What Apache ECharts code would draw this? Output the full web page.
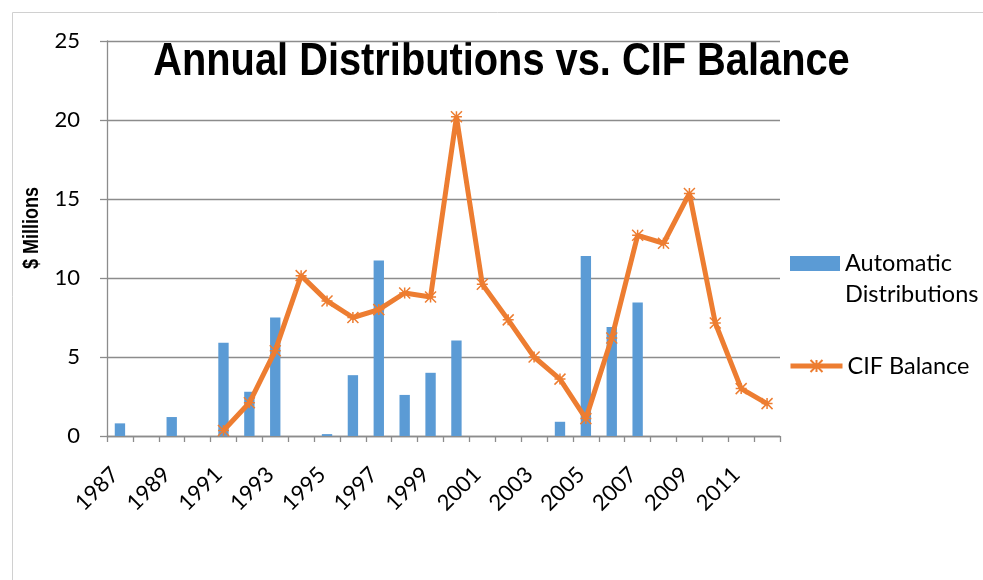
<!DOCTYPE html>
<html>
<head>
<meta charset="utf-8">
<script src="https://cdn.jsdelivr.net/npm/echarts@6/dist/echarts.min.js"></script>
<style>
  html, body { margin: 0; padding: 0; background: #ffffff; }
  #chart { width: 983px; height: 580px; }
</style>
</head>
<body>
<div id="chart"></div>
<script>
// ---- data ----
var years = ['1987','1988','1989','1990','1991','1992','1993','1994','1995','1996','1997','1998','1999',
             '2000','2001','2002','2003','2004','2005','2006','2007','2008','2009','2010','2011','2012'];
var automaticDistributions = [0.8, null, 1.2, null, 5.9, 2.8, 7.5, null, 0.12, 3.85, 11.1, 2.6, 4.0,
                              6.05, null, null, null, 0.9, 11.4, 6.9, 8.45, null, null, null, null, null];
var cifBalance = [null, null, null, null, 0.35, 2.1, 5.4, 10.15, 8.55, 7.5, 8.0, 9.05, 8.8,
                  20.2, 9.6, 7.35, 5.0, 3.6, 1.1, 6.2, 12.7, 12.2, 15.35, 7.15, 3.0, 2.05];
var yTicks = { min: 0, max: 25, interval: 5 };
var titleText = 'Annual Distributions vs. CIF Balance';
var yAxisName = '$ Millions';
var seriesNames = ['Automatic Distributions', 'CIF Balance'];

var chart = echarts.init(document.getElementById('chart'));
var gridColor = '#8c8c8c';
var asterisk = 'path://M0,0L10,10M10,0L0,10M5,0L5,10M0,5L10,5';

chart.setOption({
  backgroundColor: '#ffffff',
  animation: false,
  graphic: [{
    type: 'polyline',
    shape: { points: [[12.5, 580], [12.5, 12.5], [983, 12.5]] },
    style: { stroke: '#d0d0d0', lineWidth: 1, fill: null },
    silent: true
  }, {
    type: 'text',
    x: 501.5, y: 62,
    scaleX: 0.865,
    style: {
      text: titleText,
      font: 'bold 46px "Liberation Sans", Arial, sans-serif',
      fill: '#000',
      align: 'center', verticalAlign: 'middle'
    },
    silent: true
  }, {
    type: 'text',
    x: 32, y: 228,
    rotation: Math.PI / 2,
    scaleX: 0.82,
    style: {
      text: yAxisName,
      font: 'bold 22px "Liberation Sans", Arial, sans-serif',
      fill: '#000',
      align: 'center', verticalAlign: 'middle'
    },
    silent: true
  }],
  legend: [{
    data: [{ name: seriesNames[0], icon: 'rect' }],
    left: 790, top: 217,
    padding: 0,
    orient: 'vertical',
    itemWidth: 50, itemHeight: 15, itemGap: 0,
    formatter: function () { return '\nAutomatic\nDistributions'; },
    textStyle: { fontFamily: 'Lato', fontSize: 23.5, color: '#000', lineHeight: 31 }
  }, {
    data: [seriesNames[1]],
    left: 788, top: 351,
    padding: 0,
    itemWidth: 52, itemHeight: 15,
    lineStyle: { width: 5 },
    textStyle: { fontFamily: 'Lato', fontSize: 23.5, color: '#000', lineHeight: 30 }
  }],
  grid: { left: 107, right: 203, top: 41, bottom: 144, containLabel: false },
  xAxis: {
    type: 'category',
    data: years,
    boundaryGap: true,
    axisLine: { show: true, lineStyle: { color: gridColor, width: 1.3 } },
    axisTick: { show: true, interval: 0, length: 6, lineStyle: { color: gridColor, width: 1.3 } },
    axisLabel: {
      interval: 1, rotate: 45, margin: 30, padding: [0, 7, 0, 0],
      fontFamily: 'Lato', fontSize: 22, color: '#000'
    },
    splitLine: { show: false }
  },
  yAxis: {
    type: 'value',
    min: yTicks.min, max: yTicks.max, interval: yTicks.interval,
    axisLine: { show: true, lineStyle: { color: gridColor, width: 1.3 } },
    axisTick: { show: true, inside: false, length: 7, lineStyle: { color: gridColor, width: 1.3 } },
    axisLabel: { fontFamily: 'Lato', fontSize: 22, color: '#000', margin: 27 },
    splitLine: { show: true, lineStyle: { color: gridColor, width: 1.3 } }
  },
  series: [{
    name: seriesNames[0],
    type: 'bar',
    data: automaticDistributions,
    barWidth: '40%',
    itemStyle: { color: '#5B9BD5' }
  }, {
    name: seriesNames[1],
    type: 'line',
    data: cifBalance,
    connectNulls: false,
    lineStyle: { color: '#ED7D31', width: 5 },
    itemStyle: { color: 'rgba(0,0,0,0)', borderColor: '#ED7D31', borderWidth: 1.5 },
    symbol: asterisk,
    symbolSize: 11,
    showSymbol: true,
    z: 3
  }]
});
</script>
</body>
</html>
